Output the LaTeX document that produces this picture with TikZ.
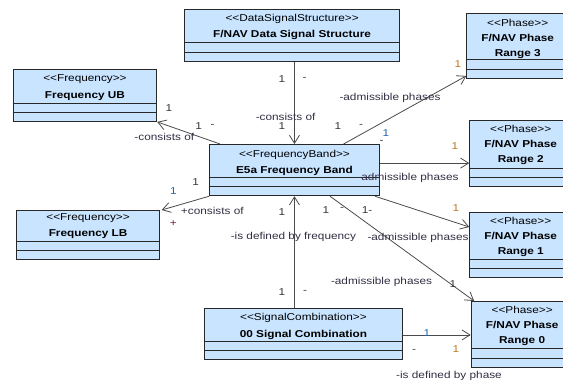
\documentclass[tikz,border=0pt]{standalone}
\usepackage{fontspec}
\setmainfont[FakeStretch=1.18, Ligatures=TeXOff]{Liberation Sans}
\usetikzlibrary{arrows.meta}

\definecolor{classfill}{RGB}{200,228,255}
\definecolor{boxline}{RGB}{40,40,40}
\definecolor{linegray}{RGB}{75,75,75}
\definecolor{labelgray}{RGB}{55,55,55}
\definecolor{rolegray}{RGB}{50,45,65}
\definecolor{multorange}{RGB}{190,120,30}
\definecolor{multblue}{RGB}{30,100,170}
\definecolor{plusred}{RGB}{130,20,60}

\begin{document}
\begin{tikzpicture}[x=1pt, y=-1pt,
    every node/.style={inner sep=0pt, font=\fontsize{10}{16.5}\selectfont},
    umlclass/.style={draw=boxline, fill=classfill, line width=0.9pt, anchor=north west},
    classname/.style={anchor=north, align=center, text=black},
    phasename/.style={classname, font=\fontsize{10}{15}\selectfont},
    mult/.style={text=labelgray},
    role/.style={text=rolegray},
    assoc/.style={draw=linegray, line width=0.8pt, -{Straight Barb[length=8pt,width=10pt]}}]
  \useasboundingbox (0,0) rectangle (563,385);

  % classes
  \node [umlclass, minimum width=215.3pt, minimum height=51.7pt] (dss) at (184,9) {};
  \node [umlclass, minimum width=143.6pt, minimum height=52pt] (ub) at (12.7,69) {};
  \node [umlclass, minimum width=169.4pt, minimum height=51.3pt] (fb) at (209.3,144) {};
  \node [umlclass, minimum width=143.3pt, minimum height=49.3pt] (lb) at (16,210) {};
  \node [umlclass, minimum width=198pt, minimum height=51.6pt] (sc) at (204,307.7) {};
  \node [umlclass, minimum width=102pt, minimum height=65pt] (p3) at (466.3,12.7) {};
  \node [umlclass, minimum width=102pt, minimum height=66pt] (p2) at (469.3,120) {};
  \node [umlclass, minimum width=102pt, minimum height=65.3pt] (p1) at (469.3,211.7) {};
  \node [umlclass, minimum width=102pt, minimum height=65.7pt] (p0) at (470.7,301) {};
  \foreach \c in {dss,ub,fb,lb,sc,p3,p2,p1,p0} {
    \draw [boxline, line width=0.9pt] ([yshift=9.5pt]\c.south west) -- ([yshift=9.5pt]\c.south east);
    \draw [boxline, line width=0.9pt] ([yshift=18.7pt]\c.south west) -- ([yshift=18.7pt]\c.south east);
  }

  \node [classname] (dss-t) at ([yshift=-4.6pt]dss.north) {<<DataSignalStructure>>\\\textbf{F/NAV Data Signal Structure}};
  \node [classname] (ub-t) at ([yshift=-5.6pt]ub.north) {<<Frequency>>\\\textbf{Frequency UB}};
  \node [classname] (fb-t) at ([yshift=-5.6pt]fb.north) {<<FrequencyBand>>\\\textbf{E5a Frequency Band}};
  \node [classname] (lb-t) at ([yshift=-3pt]lb.north) {<<Frequency>>\\\textbf{Frequency LB}};
  \node [classname] (sc-t) at ([yshift=-5.4pt]sc.north) {<<SignalCombination>>\\\textbf{00 Signal Combination}};
  \node [phasename] (p3-t) at ([yshift=-6pt]p3.north) {<<Phase>>\\\textbf{F/NAV Phase}\\\textbf{Range 3}};
  \node [phasename] (p2-t) at ([yshift=-5.4pt]p2.north) {<<Phase>>\\\textbf{F/NAV Phase}\\\textbf{Range 2}};
  \node [phasename] (p1-t) at ([yshift=-5pt]p1.north) {<<Phase>>\\\textbf{F/NAV Phase}\\\textbf{Range 1}};
  \node [phasename] (p0-t) at ([yshift=-5.4pt]p0.north) {<<Phase>>\\\textbf{F/NAV Phase}\\\textbf{Range 0}};

  % associations
  \draw [assoc] (fb.north |- dss.south) -- (fb.north);
  \draw [assoc] ([xshift=10.7pt]fb.north west) -- (ub.south east);
  \draw [assoc] (fb.south west) -- ([xshift=1.5pt]lb.north east);
  \draw [assoc] ([xshift=-36pt]fb.north east) -- ([yshift=2.7pt]p3.south west);
  \draw [assoc] ([yshift=7pt]fb.east) -- ([yshift=7pt]fb.east -| p2.west);
  \draw [assoc] ([xshift=-4.7pt]fb.south east) -- ([yshift=-15.3pt]p1.north west);
  \draw [assoc] ([xshift=120.7pt]fb.south west) -- ([xshift=3.5pt]p0.north west);
  \draw [assoc] (fb.south |- sc.north) -- (fb.south);
  \draw [assoc] ([yshift=-1pt]sc.east) -- ([yshift=-1pt]sc.east -| p0.west);

  % ends: data signal structure
  \node [mult] (dss-m) at (282,79) {1};
  \node [mult] (dss-v) at (304.5,79) {-};
  \node [role] (dss-r) at (285.6,117) {-consists of};
  \node [mult] (dss-fm) at (282,126) {1};
  % ends: frequency UB
  \node [mult] (ub-m) at (169,108) {1};
  \node [role] (ub-r) at (164.3,137.3) {-consists of};
  \node [mult] (ub-fm) at (198.6,126) {1};
  \node [mult] (ub-fv) at (212.6,126) {-};
  % ends: frequency LB
  \node [mult, text=multblue] (lb-m) at (173.4,191) {1};
  \node [mult] (lb-fm) at (195.7,182.3) {1};
  \node [role] (lb-r) at (212.3,211) {+consists of};
  \node [mult, text=plusred] (lb-v) at (173.4,224) {+};
  % ends: phase ranges
  \node [role] (p3-r) at (390,98) {-admissible phases};
  \node [mult, text=multorange] (p3-m) at (458,64) {1};
  \node [mult] (p3-fm) at (338,126) {1};
  \node [mult] (p3-fv) at (361,126) {-};
  \node [mult, text=multblue] (p3-fm2) at (386,133.5) {1};
  \node [mult] (p3-fv2) at (381.5,142) {-};
  \node [mult, text=multorange] (p2-m) at (455,146) {1};
  \node [role] (p2-r) at (408,178.3) {-admissible phases};
  \node [mult, text=multorange] (p1-m) at (456,207.7) {1};
  \node [role] (p1-r) at (418,237.7) {-admissible phases};
  \node [mult] (p1-fm) at (367,210) {1-};
  \node [mult] (p0-fm) at (326,210) {1};
  \node [mult] (p0-fv) at (342,209) {-};
  \node [role] (p0-r) at (381.5,282) {-admissible phases};
  \node [mult] (p0-m) at (453,284) {1};
  % ends: signal combination
  \node [mult] (sc-fm) at (282,212.3) {1};
  \node [role] (sc-r) at (293.4,237.3) {-is defined by frequency};
  \node [mult] (sc-m) at (282,291.7) {1};
  \node [mult] (sc-v) at (305,291.7) {-};
  \node [mult, text=multblue] (sc-pm) at (427,333) {1};
  \node [mult] (sc-pv) at (414,351) {-};
  \node [mult, text=multorange] (p0-m2) at (456,349.3) {1};
  \node [role] (p0-r2) at (449,376) {-is defined by phase};
\end{tikzpicture}
\end{document}
